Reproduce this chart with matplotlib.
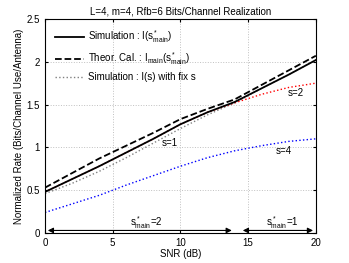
import numpy as np
import matplotlib
matplotlib.use('Agg')
import matplotlib.pyplot as plt

# SNR grid (dB)
snr = [0, 2, 4, 6, 8, 10, 12, 14, 16, 18, 20]

# curves
sim_main = [0.48, 0.63, 0.78, 0.94, 1.10, 1.27, 1.41, 1.53, 1.69, 1.85, 2.02]
theo_main = [0.53, 0.70, 0.87, 1.02, 1.17, 1.33, 1.45, 1.56, 1.73, 1.90, 2.07]
fix_s1 = [0.46, 0.58, 0.72, 0.88, 1.05, 1.22, 1.38, 1.52, 1.69, 1.85, 2.02]
fix_s2 = [0.48, 0.63, 0.78, 0.94, 1.10, 1.27, 1.41, 1.52, 1.62, 1.70, 1.75]
fix_s4 = [0.24, 0.34, 0.44, 0.56, 0.67, 0.78, 0.88, 0.96, 1.02, 1.07, 1.10]

switch_snr = 14.2

plt.rcParams['font.family'] = ['Liberation Sans', 'DejaVu Sans']
plt.rcParams['mathtext.fontset'] = 'custom'
plt.rcParams['mathtext.rm'] = 'Liberation Sans'
plt.rcParams['mathtext.it'] = 'Liberation Sans'
fig = plt.figure(figsize=(3.49, 2.63), dpi=100)
ax = fig.add_axes([0.129, 0.114, 0.776, 0.814])

ax.plot(snr, fix_s1, ':', color='gray', lw=1.0)
ax.plot(snr, fix_s2, ':', color='red', lw=1.0)
ax.plot(snr, fix_s4, ':', color='blue', lw=1.0)
ax.plot(snr, sim_main, '-', color='k', lw=1.3, label=r'Simulation : I(s$^*_{\mathrm{main}}$)')
ax.plot(snr, theo_main, '--', color='k', lw=1.3, label=r'Theor. Cal. : I$_{\mathrm{main}}$(s$^*_{\mathrm{main}}$)')
ax.plot([], [], ':', color='gray', lw=1.0, label='Simulation : I(s) with fix s')

fs = 7
ax.text(8.6, 1.02, 's=1', fontsize=fs)
ax.text(17.9, 1.60, 's=2', fontsize=fs)
ax.text(17.0, 0.92, 's=4', fontsize=fs)

# operating regions
arr = dict(arrowstyle='<|-|>', color='k', lw=0.8, mutation_scale=8)
ax.annotate('', xy=(0, 0.03), xytext=(switch_snr - 0.2, 0.03), arrowprops=arr)
ax.annotate('', xy=(switch_snr + 0.2, 0.03), xytext=(20, 0.03), arrowprops=arr)
ax.text(6.3, 0.08, r's$^*_{\mathrm{main}}$=2', fontsize=fs)
ax.text(16.3, 0.08, r's$^*_{\mathrm{main}}$=1', fontsize=fs)

ax.set_xlim(0, 20)
ax.set_ylim(0, 2.5)
ax.set_xticks([0, 5, 10, 15, 20])
ax.set_yticks([0, 0.5, 1, 1.5, 2, 2.5])
ax.set_yticklabels(['0', '0.5', '1', '1.5', '2', '2.5'])
ax.tick_params(direction='in', labelsize=fs, length=2.5, top=True, right=True)
ax.grid(True, ls=':', color='#c0c0c0', lw=0.7)

ax.set_xlabel('SNR (dB)', fontsize=fs, labelpad=1)
ax.set_ylabel('Normalized Rate (Bits/Channel Use/Antenna)', fontsize=fs, labelpad=2)
ax.set_title('L=4, m=4, Rfb=6 Bits/Channel Realization', fontsize=fs, pad=3)

ax.legend(loc='upper left', frameon=False, fontsize=fs, handlelength=3.0,
          handletextpad=0.4, borderaxespad=0.6)

fig.savefig('out.png', dpi=100)
